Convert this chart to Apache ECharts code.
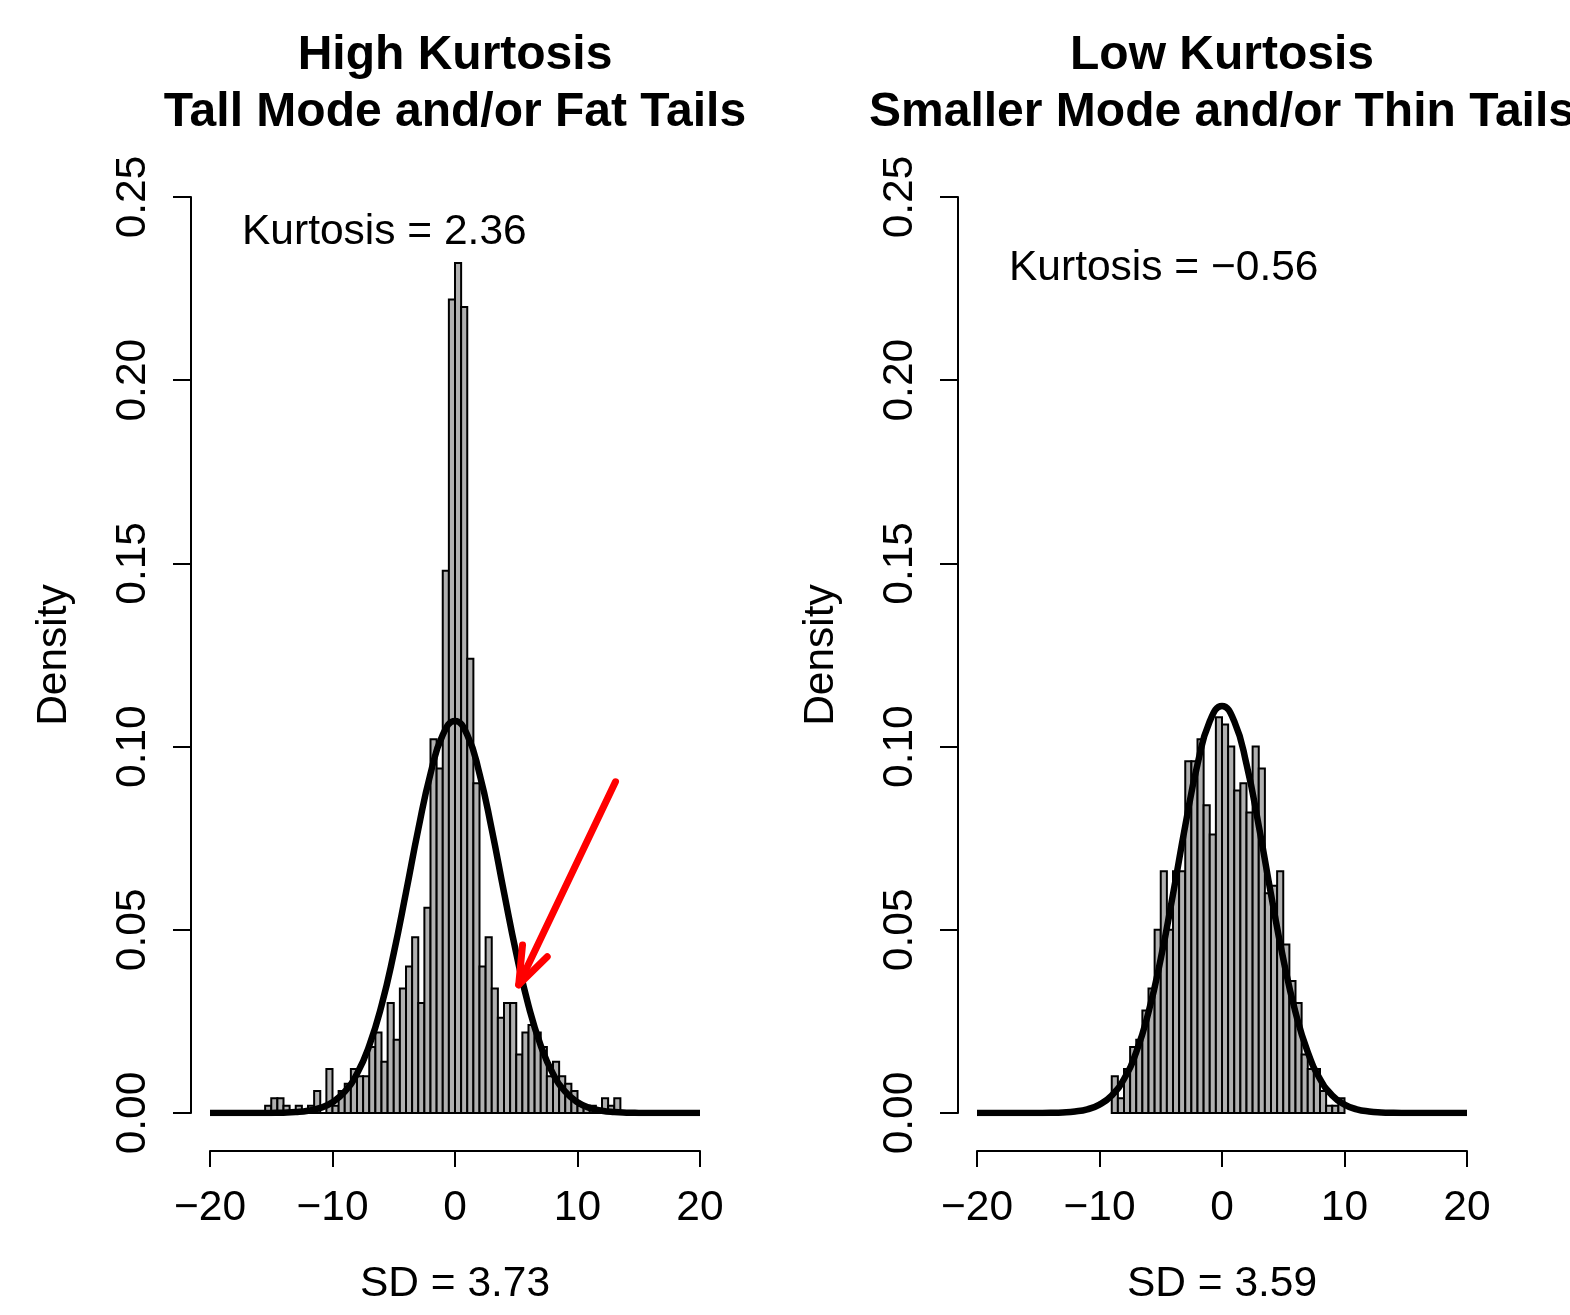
<!DOCTYPE html>
<html>
<head>
<meta charset="utf-8">
<title>High vs Low Kurtosis</title>
<script src="https://cdn.jsdelivr.net/npm/echarts@6/dist/echarts.min.js"></script>
<style>
  html, body { margin: 0; padding: 0; background: #fff; }
  #chart { width: 1570px; height: 1315px; }
</style>
</head>
<body>
<div id="chart"></div>
<script>
// histogram settings (counts out of 1000 draws, bins of width 0.5)
const BIN_WIDTH = 0.5;
const N_OBS = 1000;

// left panel: high kurtosis, first bin starts at -15.5
const highStart = -15.5;
const highCounts = [
    1, 2, 2, 1, 0, 1, 0, 1, 3, 0, 6, 1, 3, 4, 6, 5, 5, 9, 11, 7,
    15, 10, 17, 20, 24, 15, 28, 51, 47, 74, 111, 116, 110, 62, 45, 20, 24, 17, 13, 15,
    15, 8, 11, 12, 11, 9, 5, 7, 5, 4, 3, 1, 1, 1, 0, 2, 1, 2,
];

// right panel: low kurtosis, first bin starts at -9
const lowStart = -9;
const lowCounts = [
    5, 2, 6, 9, 10, 14, 17, 25, 33, 25, 33, 33, 48, 48, 51, 42, 38, 54,
    53, 50, 44, 45, 41, 50, 47, 30, 31, 33, 23, 18, 15, 8, 6, 6, 3, 1, 1, 2,
];

// normal curves at whole x values
const curveX = [
    -20, -19, -18, -17, -16, -15, -14, -13, -12, -11, -10, -9, -8, -7, -6, -5, -4, -3, -2, -1,
    0, 1, 2, 3, 4, 5, 6, 7, 8, 9, 10, 11, 12, 13, 14, 15, 16, 17, 18, 19, 20,
];
const highCurve = [
    0, 0, 0, 0, 0.00001, 0.00003, 0.00009, 0.00025, 0.00061, 0.00138, 0.00294, 0.00582, 0.0107, 0.0184, 0.0293, 0.0436, 0.0602, 0.0774, 0.0926, 0.1032,
    0.1070, 0.1032, 0.0926, 0.0774, 0.0602, 0.0436, 0.0293, 0.0184, 0.0107, 0.00582, 0.00294, 0.00138, 0.00061, 0.00025, 0.00009, 0.00003, 0.00001, 0, 0, 0, 0,
];
const lowCurve = [
    0, 0, 0, 0, 0, 0.00002, 0.00006, 0.00016, 0.00042, 0.00102, 0.0023, 0.0048, 0.00928, 0.0166, 0.0275, 0.0421, 0.0597, 0.0784, 0.0952, 0.1069,
    0.1111, 0.1069, 0.0952, 0.0784, 0.0597, 0.0421, 0.0275, 0.0166, 0.00928, 0.0048, 0.0023, 0.00102, 0.00042, 0.00016, 0.00006, 0.00002, 0, 0, 0, 0, 0,
];

// red arrow on the left panel, in data units: [tailX, tailY, tipX, tipY]
const arrowLine = [13.1, 0.0904, 5.2, 0.0350];

const panelTitles = [
    'High Kurtosis\nTall Mode and/or Fat Tails',
    'Low Kurtosis\nSmaller Mode and/or Thin Tails',
];
const kurtosisNotes = ['Kurtosis = 2.36', 'Kurtosis = \u22120.56'];
const sdNotes = ['SD = 3.73', 'SD = 3.59'];

const FONT = '"Liberation Sans", Arial, Helvetica, sans-serif';
const BAR_FILL = '#b0b0b0';
const TEXT_SIZE = 42.5;

function histData(start, counts) {
    return counts.map((c, i) => [
        start + i * BIN_WIDTH,
        start + (i + 1) * BIN_WIDTH,
        c / (N_OBS * BIN_WIDTH),
    ]);
}

function curveData(ys) {
    return curveX.map((x, i) => [x, ys[i]]);
}

function renderBin(params, api) {
    const top = api.coord([api.value(0), api.value(2)]);
    const bottom = api.coord([api.value(1), 0]);
    return {
        type: 'rect',
        shape: { x: top[0], y: top[1], width: bottom[0] - top[0], height: bottom[1] - top[1] },
        style: { fill: BAR_FILL, stroke: '#000', lineWidth: 2 },
    };
}

// open arrowhead like R's arrows()
function renderArrow(params, api) {
    const a = api.coord([api.value(0), api.value(1)]);
    const b = api.coord([api.value(2), api.value(3)]);
    const ang = Math.atan2(a[1] - b[1], a[0] - b[0]);
    const len = 40, spread = Math.PI / 9;
    const h1 = [b[0] + len * Math.cos(ang + spread), b[1] + len * Math.sin(ang + spread)];
    const h2 = [b[0] + len * Math.cos(ang - spread), b[1] + len * Math.sin(ang - spread)];
    const st = { stroke: '#ff0000', lineWidth: 7, lineCap: 'round', lineJoin: 'round', fill: null };
    return {
        type: 'group',
        children: [
            { type: 'line', shape: { x1: a[0], y1: a[1], x2: b[0], y2: b[1] }, style: st },
            { type: 'polyline', shape: { points: [h1, b, h2] }, style: st },
        ],
    };
}

function makeXAxis(gridIndex, name) {
    return {
        gridIndex: gridIndex,
        type: 'value',
        min: -20, max: 20, interval: 10,
        position: 'bottom',
        offset: 38,
        name: name,
        nameLocation: 'middle',
        nameGap: 112,
        nameMoveOverlap: false,
        nameTextStyle: { fontSize: TEXT_SIZE, color: '#000', fontFamily: FONT },
        axisLine: { show: true, onZero: false, lineStyle: { color: '#000', width: 2 } },
        axisTick: { show: true, length: 16, lineStyle: { color: '#000', width: 2 } },
        axisLabel: {
            margin: 36, fontSize: TEXT_SIZE, color: '#000', fontFamily: FONT,
            formatter: v => String(v).replace('-', '\u2212'),
        },
        splitLine: { show: false },
    };
}

function makeYAxis(gridIndex) {
    return {
        gridIndex: gridIndex,
        type: 'value',
        min: 0, max: 0.25, interval: 0.05,
        position: 'left',
        offset: 19,
        name: 'Density',
        nameLocation: 'middle',
        nameRotate: 90,
        nameGap: 115,
        nameMoveOverlap: false,
        nameTextStyle: { fontSize: TEXT_SIZE, color: '#000', fontFamily: FONT },
        axisLine: { show: true, onZero: false, lineStyle: { color: '#000', width: 2 } },
        axisTick: { show: true, length: 18, lineStyle: { color: '#000', width: 2 } },
        axisLabel: {
            rotate: 90, margin: 36, fontSize: TEXT_SIZE, color: '#000', fontFamily: FONT,
            formatter: v => v.toFixed(2),
        },
        splitLine: { show: false },
    };
}

const chart = echarts.init(document.getElementById('chart'), null, { renderer: 'canvas' });

const option = {
    backgroundColor: '#fff',
    animation: false,
    grid: [
        { left: 210, top: 197, width: 490, height: 916, containLabel: false, outerBoundsMode: 'none' },
        { left: 977, top: 197, width: 490, height: 916, containLabel: false, outerBoundsMode: 'none' },
    ],
    xAxis: [makeXAxis(0, sdNotes[0]), makeXAxis(1, sdNotes[1])],
    yAxis: [makeYAxis(0), makeYAxis(1)],
    graphic: [
        {
            type: 'text', x: 455, y: 84,
            style: {
                text: panelTitles[0], fontSize: 48, fontWeight: 'bold', fontFamily: FONT,
                fill: '#000', align: 'center', verticalAlign: 'middle', lineHeight: 57,
            },
        },
        {
            type: 'text', x: 1222, y: 84,
            style: {
                text: panelTitles[1], fontSize: 48, fontWeight: 'bold', fontFamily: FONT,
                fill: '#000', align: 'center', verticalAlign: 'middle', lineHeight: 57,
            },
        },
        {
            type: 'text', x: 242, y: 232,
            style: { text: kurtosisNotes[0], fontSize: TEXT_SIZE, fontFamily: FONT, fill: '#000', align: 'left', verticalAlign: 'middle' },
        },
        {
            type: 'text', x: 1009, y: 268,
            style: { text: kurtosisNotes[1], fontSize: TEXT_SIZE, fontFamily: FONT, fill: '#000', align: 'left', verticalAlign: 'middle' },
        },
    ],
    series: [
        {
            type: 'custom', xAxisIndex: 0, yAxisIndex: 0,
            renderItem: renderBin, encode: { x: [0, 1], y: 2 },
            data: histData(highStart, highCounts), z: 2,
        },
        {
            type: 'line', xAxisIndex: 0, yAxisIndex: 0,
            data: curveData(highCurve), smooth: true, symbol: 'none',
            lineStyle: { color: '#000', width: 6.5 }, z: 3,
        },
        {
            type: 'custom', xAxisIndex: 0, yAxisIndex: 0,
            renderItem: renderArrow, encode: { x: [0, 2], y: [1, 3] },
            data: [arrowLine], clip: false, z: 4,
        },
        {
            type: 'custom', xAxisIndex: 1, yAxisIndex: 1,
            renderItem: renderBin, encode: { x: [0, 1], y: 2 },
            data: histData(lowStart, lowCounts), z: 2,
        },
        {
            type: 'line', xAxisIndex: 1, yAxisIndex: 1,
            data: curveData(lowCurve), smooth: true, symbol: 'none',
            lineStyle: { color: '#000', width: 6.5 }, z: 3,
        },
    ],
};

chart.setOption(option);
</script>
</body>
</html>
